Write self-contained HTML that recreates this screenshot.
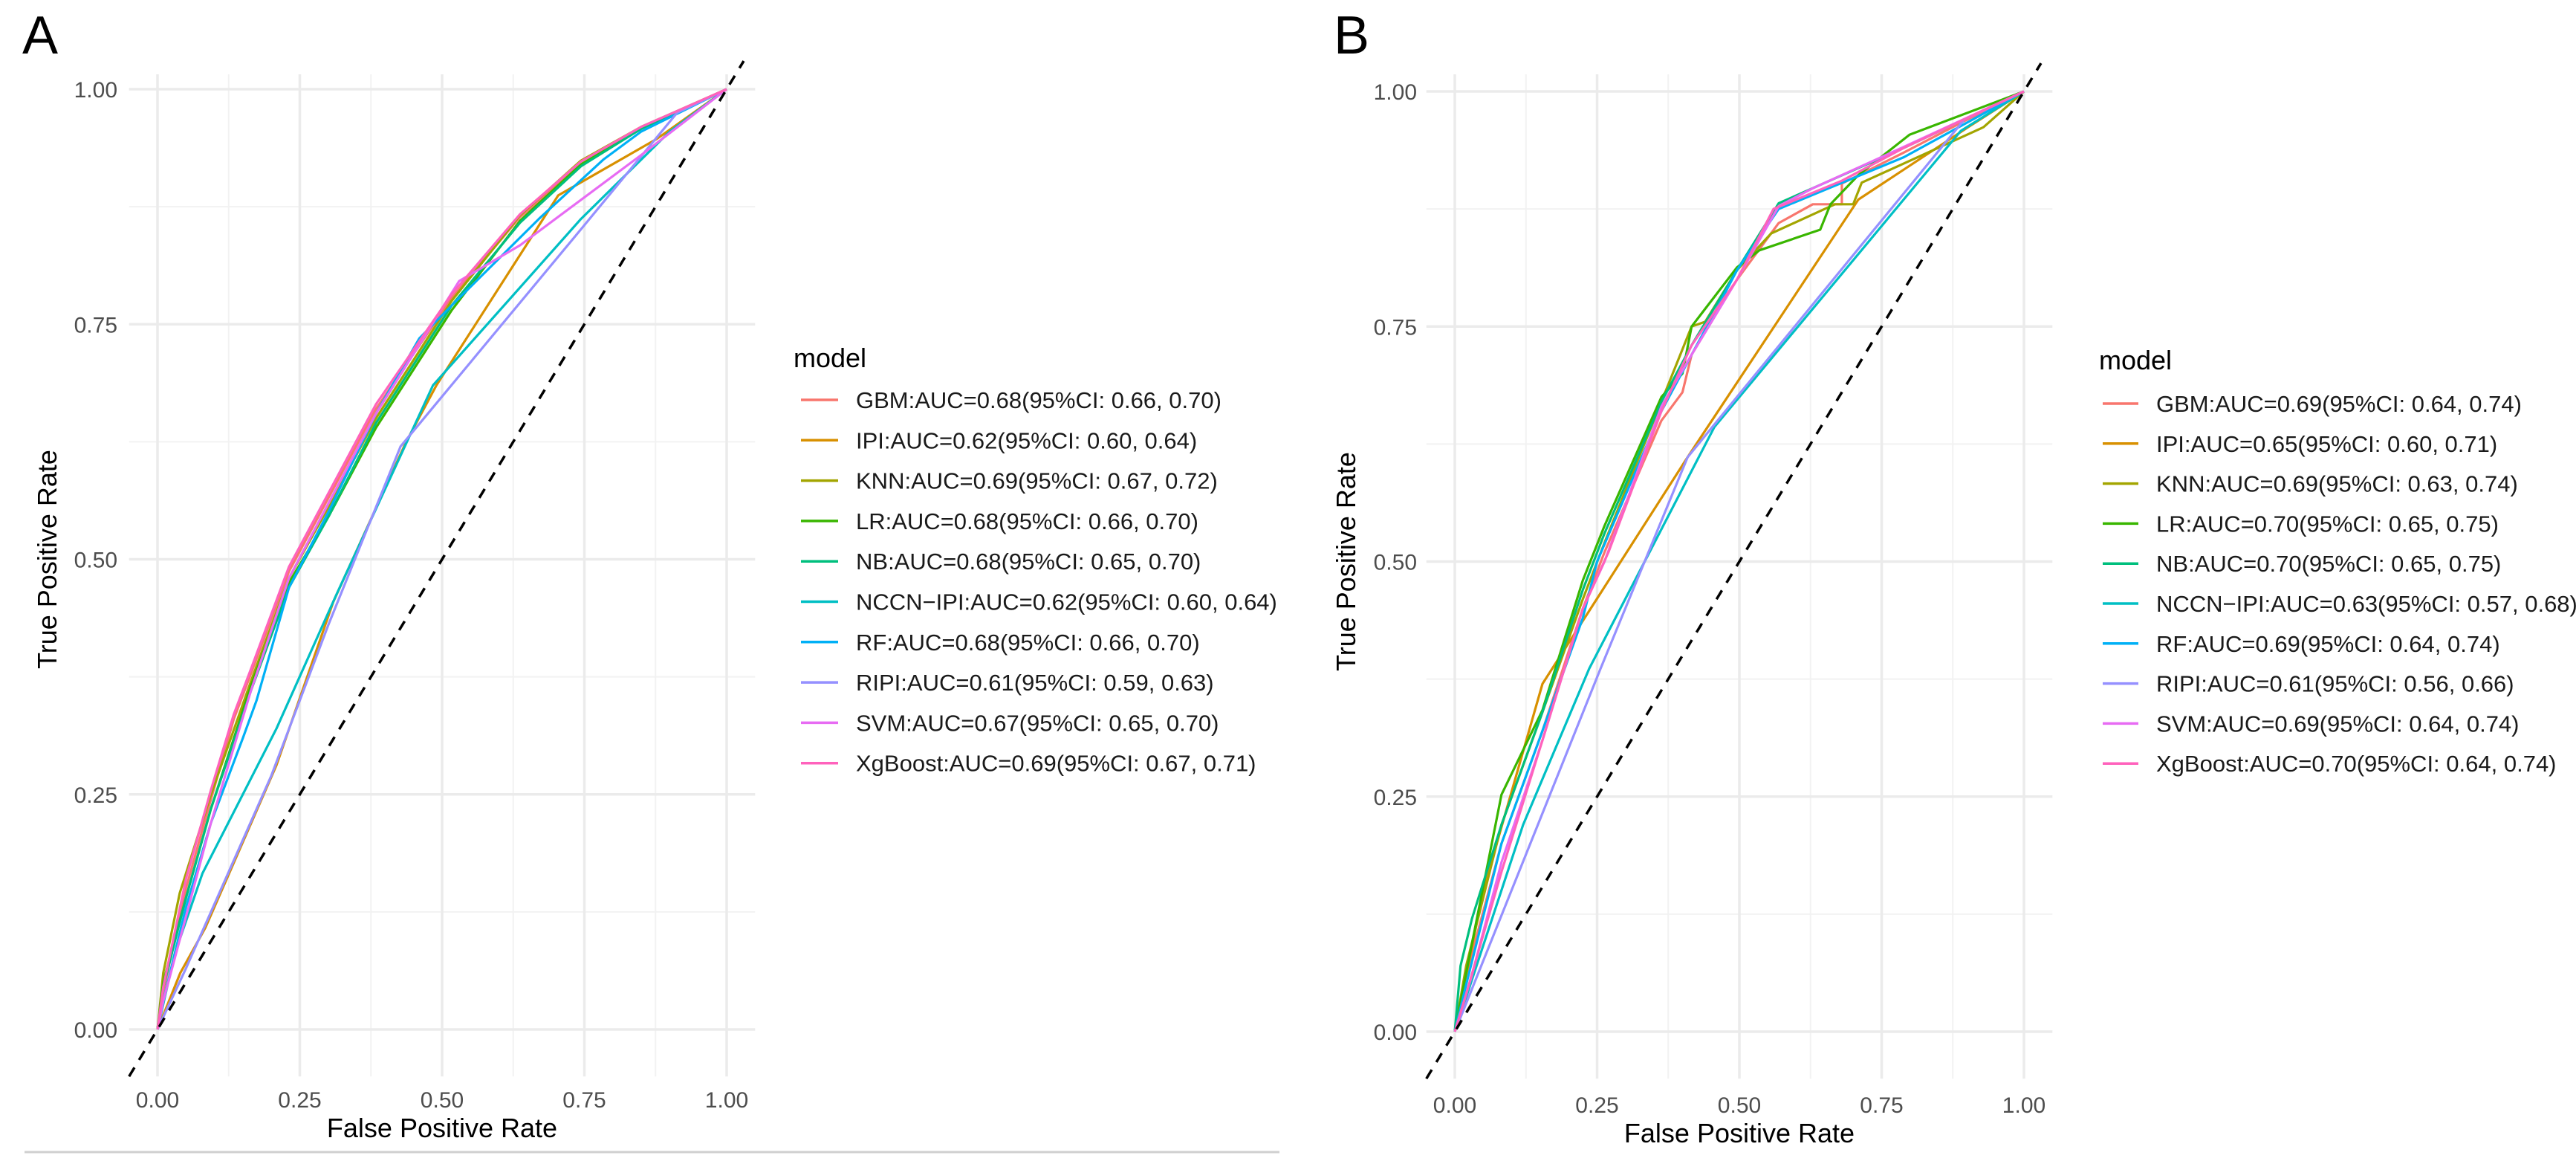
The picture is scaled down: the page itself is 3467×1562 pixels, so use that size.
<!DOCTYPE html>
<html><head><meta charset="utf-8"><style>
html,body{margin:0;padding:0;background:#fff;}
svg{display:block;}
text{font-family:"Liberation Sans",sans-serif;}
</style></head><body>
<svg id="fig" width="3467" height="1562" viewBox="0 0 3467 1562" xmlns="http://www.w3.org/2000/svg">
<rect width="3467" height="1562" fill="#fff"/>
<line x1="33" y1="1550" x2="1722" y2="1550" stroke="#cfcfcf" stroke-width="3"/>
<text x="30" y="72" font-size="72" font-family="Liberation Sans" fill="#000">A</text>
<text x="1795" y="72" font-size="72" font-family="Liberation Sans" fill="#000">B</text>
<g id="panelA"></g>
<g id="panelB"></g>
</svg>
<script>
const models = ["GBM","IPI","KNN","LR","NB","NCCN-IPI","RF","RIPI","SVM","XgBoost"];
const colors = ["#F8766D","#D89000","#A3A500","#39B600","#00BF7D","#00BFC4","#00B0F6","#9590FF","#E76BF3","#FF62BC"];
const ticks = [0,0.25,0.5,0.75,1];
const tickLabels = ["0.00","0.25","0.50","0.75","1.00"];
const legendA = ["GBM:AUC=0.68(95%CI: 0.66, 0.70)","IPI:AUC=0.62(95%CI: 0.60, 0.64)","KNN:AUC=0.69(95%CI: 0.67, 0.72)","LR:AUC=0.68(95%CI: 0.66, 0.70)","NB:AUC=0.68(95%CI: 0.65, 0.70)","NCCN\u2212IPI:AUC=0.62(95%CI: 0.60, 0.64)","RF:AUC=0.68(95%CI: 0.66, 0.70)","RIPI:AUC=0.61(95%CI: 0.59, 0.63)","SVM:AUC=0.67(95%CI: 0.65, 0.70)","XgBoost:AUC=0.69(95%CI: 0.67, 0.71)"];
const legendB = ["GBM:AUC=0.69(95%CI: 0.64, 0.74)","IPI:AUC=0.65(95%CI: 0.60, 0.71)","KNN:AUC=0.69(95%CI: 0.63, 0.74)","LR:AUC=0.70(95%CI: 0.65, 0.75)","NB:AUC=0.70(95%CI: 0.65, 0.75)","NCCN\u2212IPI:AUC=0.63(95%CI: 0.57, 0.68)","RF:AUC=0.69(95%CI: 0.64, 0.74)","RIPI:AUC=0.61(95%CI: 0.56, 0.66)","SVM:AUC=0.69(95%CI: 0.64, 0.74)","XgBoost:AUC=0.70(95%CI: 0.64, 0.74)"];

// Panel A ROC points [fpr, tpr]
const A_GBM = [[0,0],[0.01,0.04],[0.05,0.15],[0.094,0.245],[0.134,0.33],[0.164,0.378],[0.231,0.487],[0.3,0.565],[0.384,0.66],[0.517,0.778],[0.637,0.864],[0.744,0.92],[0.85,0.958],[1,1]];
const A_IPI = [[0,0],[0.04,0.06],[0.084,0.108],[0.209,0.281],[0.309,0.455],[0.437,0.625],[0.49,0.685],[0.704,0.887],[0.877,0.947],[1,1]];
const A_KNN = [[0,0],[0.01,0.06],[0.039,0.145],[0.094,0.25],[0.164,0.37],[0.231,0.48],[0.3,0.555],[0.384,0.65],[0.517,0.775],[0.637,0.866],[0.744,0.924],[0.85,0.96],[1,1]];
const A_LR = [[0,0],[0.01,0.05],[0.05,0.14],[0.094,0.235],[0.164,0.365],[0.231,0.475],[0.3,0.545],[0.384,0.64],[0.517,0.765],[0.637,0.86],[0.744,0.92],[0.85,0.958],[1,1]];
const A_NB = [[0,0],[0.01,0.045],[0.05,0.14],[0.094,0.235],[0.164,0.36],[0.231,0.47],[0.3,0.545],[0.384,0.645],[0.517,0.77],[0.637,0.858],[0.744,0.918],[0.85,0.958],[1,1]];
const A_NCCN = [[0,0],[0.03,0.08],[0.079,0.166],[0.209,0.32],[0.314,0.462],[0.484,0.685],[0.744,0.862],[0.9,0.955],[1,1]];
const A_RF = [[0,0],[0.01,0.03],[0.05,0.13],[0.094,0.22],[0.15,0.31],[0.174,0.35],[0.231,0.47],[0.3,0.55],[0.384,0.655],[0.46,0.735],[0.517,0.77],[0.67,0.862],[0.783,0.925],[0.85,0.955],[1,1]];
const A_RIPI = [[0,0],[0.05,0.065],[0.2,0.27],[0.3,0.43],[0.427,0.62],[0.744,0.851],[0.913,0.975],[1,1]];
const A_SVM = [[0,0],[0.01,0.03],[0.05,0.12],[0.094,0.22],[0.164,0.36],[0.231,0.48],[0.384,0.655],[0.53,0.796],[0.637,0.834],[0.85,0.93],[1,1]];
const A_XGB = [[0,0],[0.01,0.045],[0.05,0.16],[0.094,0.255],[0.134,0.335],[0.164,0.383],[0.231,0.492],[0.3,0.57],[0.384,0.665],[0.517,0.782],[0.637,0.867],[0.744,0.923],[0.85,0.96],[1,1]];

// Panel B ROC points [fpr, tpr]
const B_GBM = [[0,0],[0.02,0.06],[0.082,0.2],[0.154,0.32],[0.225,0.45],[0.263,0.51],[0.363,0.65],[0.4,0.68],[0.416,0.72],[0.496,0.8],[0.569,0.86],[0.629,0.88],[0.68,0.88],[0.68,0.902],[0.789,0.935],[0.9,0.97],[1,1]];
const B_IPI = [[0,0],[0.05,0.15],[0.154,0.37],[0.409,0.611],[0.709,0.885],[0.902,0.962],[1,1]];
const B_KNN = [[0,0],[0.02,0.07],[0.082,0.22],[0.154,0.34],[0.225,0.46],[0.263,0.52],[0.363,0.67],[0.416,0.75],[0.44,0.755],[0.496,0.81],[0.556,0.849],[0.668,0.88],[0.7,0.88],[0.715,0.903],[0.929,0.962],[1,1]];
const B_LR = [[0,0],[0.024,0.075],[0.082,0.252],[0.154,0.342],[0.225,0.48],[0.263,0.538],[0.363,0.675],[0.4,0.7],[0.416,0.75],[0.496,0.813],[0.535,0.831],[0.642,0.853],[0.66,0.88],[0.709,0.911],[0.799,0.954],[1,1]];
const B_NB = [[0,0],[0.01,0.07],[0.03,0.12],[0.082,0.22],[0.154,0.34],[0.225,0.47],[0.263,0.53],[0.363,0.67],[0.416,0.73],[0.496,0.81],[0.569,0.881],[0.789,0.94],[1,1]];
const B_NCCN = [[0,0],[0.12,0.22],[0.236,0.386],[0.456,0.643],[0.889,0.958],[1,1]];
const B_RF = [[0,0],[0.02,0.05],[0.082,0.2],[0.154,0.32],[0.225,0.44],[0.25,0.5],[0.363,0.66],[0.416,0.72],[0.47,0.78],[0.496,0.81],[0.569,0.875],[0.789,0.93],[1,1]];
const B_RIPI = [[0,0],[0.256,0.386],[0.409,0.611],[0.895,0.97],[1,1]];
const B_SVM = [[0,0],[0.03,0.06],[0.082,0.18],[0.154,0.31],[0.225,0.45],[0.263,0.5],[0.363,0.665],[0.416,0.72],[0.496,0.8],[0.569,0.878],[0.629,0.897],[0.789,0.941],[1,1]];
const B_XGB = [[0,0],[0.02,0.04],[0.082,0.17],[0.154,0.31],[0.225,0.45],[0.27,0.51],[0.363,0.66],[0.416,0.73],[0.496,0.8],[0.56,0.875],[0.68,0.905],[0.789,0.94],[1,1]];

const seriesA = [A_GBM,A_IPI,A_KNN,A_LR,A_NB,A_NCCN,A_RF,A_RIPI,A_SVM,A_XGB];
const seriesB = [B_GBM,B_IPI,B_KNN,B_LR,B_NB,B_NCCN,B_RF,B_RIPI,B_SVM,B_XGB];

const NS = "http://www.w3.org/2000/svg";
function mk(parent, tag, attrs, text){
  const el = document.createElementNS(NS, tag);
  for (const k in attrs) el.setAttribute(k, attrs[k]);
  if (text !== undefined) el.textContent = text;
  parent.appendChild(el);
  return el;
}

function drawPanel(g, cfg, series, legend, tag){
  const sx = v => cfg.x0 + v*(cfg.x1-cfg.x0);
  const sy = v => cfg.y0 - v*(cfg.y0-cfg.y1);
  const left = sx(-0.05), right = sx(1.05), top = cfg.top, bottom = sy(-0.05);
  // minor grid
  for (let i=0;i<4;i++){
    const v = 0.125 + 0.25*i;
    const l1 = mk(g,"line",{x1:sx(v),x2:sx(v),y1:top,y2:bottom,stroke:"#f2f2f2","stroke-width":2});
    
    
    const l2 = mk(g,"line",{x1:left,x2:right,y1:sy(v),y2:sy(v),stroke:"#f2f2f2","stroke-width":2});
    
    
  }
  ticks.forEach((t,i)=>{
    const gx = mk(g,"line",{x1:sx(t),x2:sx(t),y1:top,y2:bottom,stroke:"#ebebeb","stroke-width":3.5});
    
    
    const gy = mk(g,"line",{x1:left,x2:right,y1:sy(t),y2:sy(t),stroke:"#ebebeb","stroke-width":3.5});
    
    
    const xt = mk(g,"text",{x:sx(t),y:cfg.xTickY,"text-anchor":"middle","font-size":30,fill:"#4d4d4d"},tickLabels[i]);
    
    
    const yt = mk(g,"text",{x:cfg.yTickX,y:sy(t)+11,"text-anchor":"end","font-size":30,fill:"#4d4d4d"},tickLabels[i]);
    
    
  });
  // series
  series.forEach((pts,i)=>{
    const d = pts.map((p,j)=>(j?"L":"M")+sx(p[0]).toFixed(1)+","+sy(p[1]).toFixed(1)).join(" ");
    const path = mk(g,"path",{d:d,fill:"none",stroke:colors[i],"stroke-width":3.2,"stroke-linejoin":"round"});
    
    
  });
  // diagonal
  const dg = mk(g,"line",{x1:sx(-0.05),y1:sy(-0.05),x2:sx(1.03),y2:sy(1.03),stroke:"#000","stroke-width":3.5,"stroke-dasharray":"14,12"});
  
  
  // axis titles
  const xtit = mk(g,"text",{x:(sx(0)+sx(1))/2,y:cfg.xTitleY,"text-anchor":"middle","font-size":36,fill:"#000"},"False Positive Rate");
  
  
  const ytit = mk(g,"text",{x:0,y:0,"text-anchor":"middle","font-size":36,fill:"#000",transform:"translate("+cfg.yTitleX+","+((sy(0)+sy(1))/2)+") rotate(-90)"},"True Positive Rate");
  
  
  // legend
  const lg = mk(g,"g",{});
  
  
  const lt = mk(lg,"text",{x:cfg.legX,y:cfg.legTitleY,"font-size":36,fill:"#000"},"model");
  
  
  legend.forEach((s,i)=>{
    const yy = cfg.legY0 + i*cfg.legDy;
    const ln = mk(lg,"line",{x1:cfg.keyX0,x2:cfg.keyX1,y1:yy,y2:yy,stroke:colors[i],"stroke-width":3.5});
    
    
    const tx = mk(lg,"text",{x:cfg.textX,y:yy+11,"font-size":31,fill:"#1a1a1a"},s);
    
    
  });
}

drawPanel(document.getElementById("panelA"),
  {x0:212,x1:978,y0:1385,y1:120,top:100,xTickY:1490,yTickX:158,xTitleY:1530,yTitleX:76,
   legX:1068,legTitleY:494,legY0:538,legDy:54.3,keyX0:1078,keyX1:1128,textX:1152}, seriesA, legendA, "a");
drawPanel(document.getElementById("panelB"),
  {x0:1958,x1:2724,y0:1388,y1:123,top:100,xTickY:1497,yTickX:1907,xTitleY:1537,yTitleX:1824,
   legX:2825,legTitleY:497,legY0:543,legDy:53.8,keyX0:2830,keyX1:2878,textX:2902}, seriesB, legendB, "b");
</script>
</body></html>
